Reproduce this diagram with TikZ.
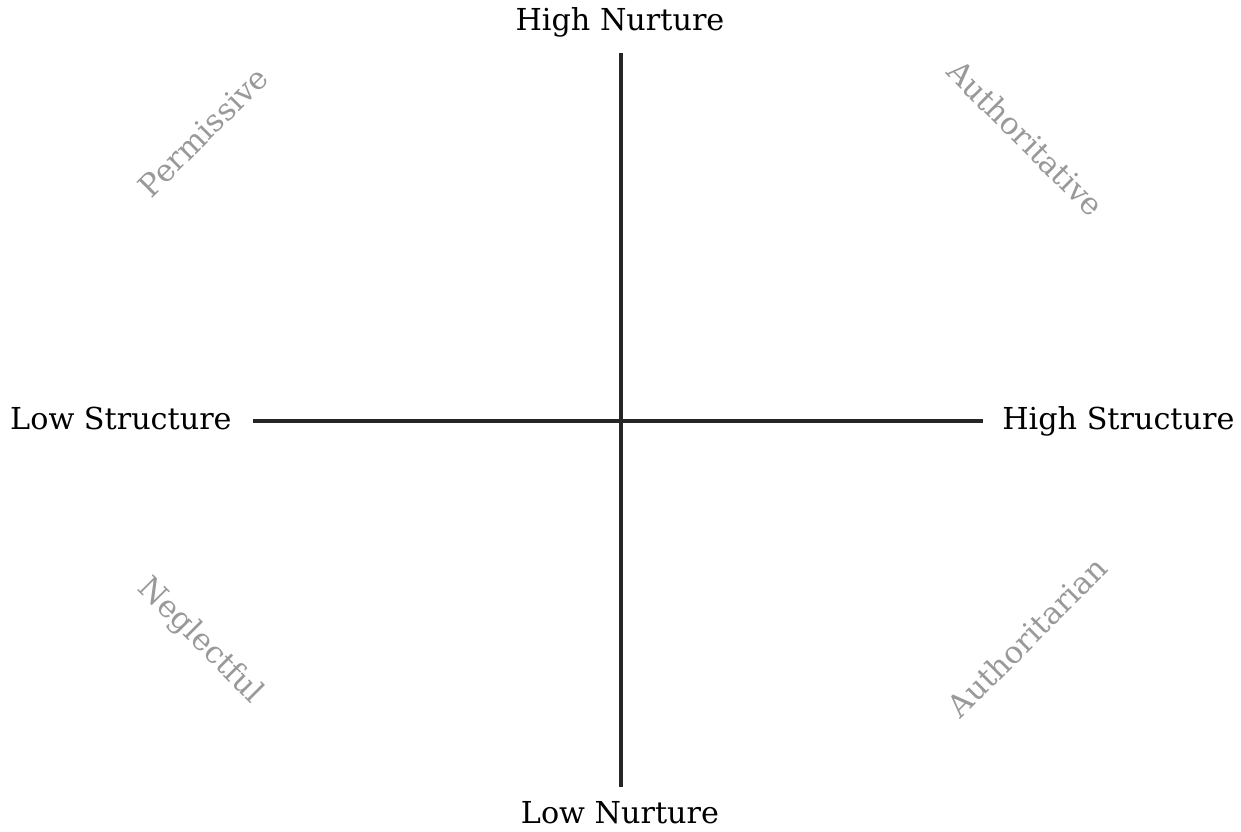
\documentclass[tikz,border=0pt]{standalone}
\usepackage{fontspec}
\setmainfont{DejaVu Serif}
\begin{document}
\begin{tikzpicture}[font=\fontsize{17.2}{20}\selectfont,
  axis/.style={line width=2.4pt, black!85},
  style label/.style={text=black!40, font=\fontsize{17.5}{20}\selectfont}]
  \useasboundingbox (-12.42,-8.2) rectangle (12.4,8.42);
  % axes
  \coordinate (top) at (0,7.36);
  \coordinate (bottom) at (0,-7.32);
  \coordinate (left) at (-7.36,0);
  \coordinate (right) at (7.24,0);
  \draw[axis] (top) -- (bottom);
  \draw[axis] (left) -- (right);
  \node[anchor=base, inner sep=0pt] (hinurt) at (-0.02,7.8) {High Nurture};
  \node[anchor=base, inner sep=0pt] (lonurt) at (-0.02,-8.05) {Low Nurture};
  \node[anchor=base east, inner sep=0pt] (lostruc) at (-7.78,-0.16) {Low Structure};
  \node[anchor=base west, inner sep=0pt] (histruc) at (7.62,-0.16) {High Structure};
  % parenting styles
  \node[style label, rotate=45] (permis) at (-8.36,5.78) {Permissive};
  \node[style label, rotate=-45] (authtive) at (8.1,5.66) {Authoritative};
  \node[style label, rotate=-45] (neglect) at (-8.42,-4.4) {Neglectful};
  \node[style label, rotate=45] (authrian) at (8.12,-4.32) {Authoritarian};
\end{tikzpicture}
\end{document}
